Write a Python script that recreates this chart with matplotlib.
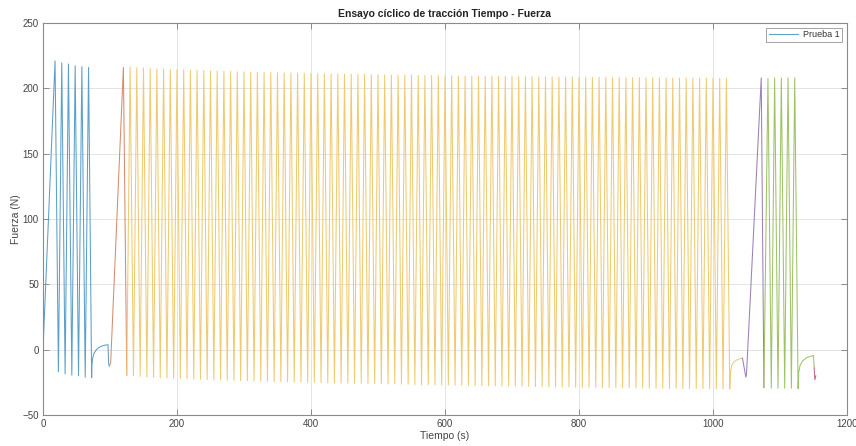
import numpy as np
import matplotlib
matplotlib.use("Agg")
import matplotlib.pyplot as plt

plt.rcParams["font.family"] = ["Liberation Sans", "DejaVu Sans"]

# --- Data: turning points of the force signal (time in s, force in N) ---

# Block 1: first loading cycles and relaxation
blue_t = [0, 18, 23, 28, 33, 38, 43, 48, 53, 58, 63, 68, 72.6,
          73, 74, 76, 79, 83, 88, 93, 97, 98, 99]
blue_f = [0, 221, -17, 219.5, -18.5, 218.6, -19.5, 217.2, -20, 216.5, -21, 216, -21.5,
          -12, -7, -3, -0.5, 1.5, 2.8, 3.5, 3.8, -11, -12.5]

# Transition ramp
red_t = [99, 101, 120, 125]
red_f = [-12.5, -10, 216, -19.5]

# Block 2: long cyclic series (peaks and valleys) and relaxation
yellow_peaks = [
    216.2, 215.8, 215.5, 215.2, 214.9, 214.7, 214.5, 214.3, 214.1, 213.9,
    213.7, 213.5, 213.4, 213.2, 213.0, 212.9, 212.7, 212.6, 212.4, 212.3,
    212.2, 212.0, 211.9, 211.8, 211.7, 211.6, 211.4, 211.3, 211.2, 211.1,
    211.0, 210.9, 210.8, 210.7, 210.6, 210.6, 210.5, 210.4, 210.3, 210.2,
    210.1, 210.1, 210.0, 209.9, 209.8, 209.8, 209.7, 209.6, 209.6, 209.5,
    209.4, 209.4, 209.3, 209.3, 209.2, 209.1, 209.1, 209.0, 209.0, 208.9,
    208.9, 208.8, 208.8, 208.7, 208.7, 208.6, 208.6, 208.5, 208.5, 208.4,
    208.4, 208.4, 208.3, 208.3, 208.2, 208.2, 208.2, 208.1, 208.1, 208.0,
    208.0, 208.0, 207.9, 207.9, 207.9, 207.8, 207.8, 207.8, 207.7, 207.7,
]
yellow_valleys = [
    -19.5, -20.0, -20.4, -20.8, -21.1, -21.4, -21.6, -21.9, -22.1, -22.3,
    -22.5, -22.7, -22.9, -23.1, -23.2, -23.4, -23.5, -23.7, -23.8, -24.0,
    -24.1, -24.2, -24.4, -24.5, -24.6, -24.7, -24.8, -25.0, -25.1, -25.2,
    -25.3, -25.4, -25.5, -25.6, -25.7, -25.8, -25.9, -26.0, -26.1, -26.2,
    -26.3, -26.4, -26.5, -26.6, -26.7, -26.8, -26.9, -27.0, -27.1, -27.2,
    -27.3, -27.4, -27.5, -27.6, -27.7, -27.7, -27.8, -27.9, -28.0, -28.1,
    -28.2, -28.2, -28.3, -28.4, -28.5, -28.5, -28.6, -28.7, -28.8, -28.8,
    -28.9, -29.0, -29.0, -29.1, -29.2, -29.2, -29.3, -29.4, -29.4, -29.5,
    -29.5, -29.6, -29.6, -29.7, -29.7, -29.8, -29.8, -29.9, -29.9, -30.0, -30.0,
]
yellow_start = 125      # first valley (s)
yellow_half_period = 5  # s between a valley and the next peak
yellow_relax_t = [1026, 1028, 1031, 1035, 1040, 1044]
yellow_relax_f = [-18, -12, -9.5, -8, -7, -6.5]

# Transition ramp
purple_t = [1044, 1049, 1050, 1072, 1076]
purple_f = [-6.5, -21, -19, 208, -29]

# Block 3: final loading cycles and relaxation
green_t = [1076, 1082, 1087, 1092, 1097, 1102, 1107, 1112, 1117, 1122, 1127,
           1128, 1130, 1134, 1140, 1146, 1150, 1151]
green_f = [-29, 207.5, -29.5, 208, -29.5, 208, -29.5, 208, -29.5, 208, -29.8,
           -17, -12, -8.5, -6, -5, -4.5, -14]

# Unloading tail
tail_t = [1151, 1152, 1153.5]
tail_f = [-14, -23, -20]

# Interleave valleys and peaks of block 2
n_turns = len(yellow_valleys) + len(yellow_peaks)
yellow_t = list(yellow_start + yellow_half_period * np.arange(n_turns))
yellow_f = []
for i in range(len(yellow_valleys)):
    yellow_f.append(yellow_valleys[i])
    if i < len(yellow_peaks):
        yellow_f.append(yellow_peaks[i])
yellow_t += yellow_relax_t
yellow_f += yellow_relax_f

# --- Figure ---
fig = plt.figure(figsize=(8.56, 4.46), dpi=100)
ax = fig.add_axes([43 / 856, 1 - 415 / 446, (847 - 43) / 856, (415 - 23) / 446])

lw = 0.75
ax.plot(blue_t, blue_f, color="#5b9fca", lw=lw, label="Prueba 1")
ax.plot(red_t, red_f, color="#d98a6e", lw=lw)
ax.plot(yellow_t, yellow_f, color="#f0ca70", lw=lw)
ax.plot(purple_t, purple_f, color="#9c80b8", lw=lw)
ax.plot(green_t, green_f, color="#9ec266", lw=lw)
ax.plot(tail_t, tail_f, color="#c2668a", lw=lw)

ax.set_xlim(0, 1200)
ax.set_ylim(-50, 250)
ax.set_xticks(np.arange(0, 1201, 200))
ax.set_yticks(np.arange(-50, 251, 50))

ax.grid(True, color="#e4e4e4", lw=0.7)
ax.set_axisbelow(True)
for s in ax.spines.values():
    s.set_color("#8a8a8a")
    s.set_linewidth(0.8)
ax.tick_params(direction="in", length=4, width=0.7, color="#8a8a8a",
               top=True, right=True, labelsize=7, labelcolor="#444444", pad=3)

ax.set_title("Ensayo cíclico de tracción Tiempo - Fuerza", fontsize=7.5,
             fontweight="bold", color="#222222", pad=4)
ax.set_xlabel("Tiempo (s)", fontsize=7.5, color="#444444", labelpad=1)
ax.set_ylabel("Fuerza (N)", fontsize=7.5, color="#444444", labelpad=1)

leg = ax.legend(loc="upper right", fontsize=6.5, frameon=True, fancybox=False,
                handlelength=3.2, borderpad=0.3, borderaxespad=0.5,
                handletextpad=0.6)
leg.get_frame().set_edgecolor("#8a8a8a")
leg.get_frame().set_linewidth(0.7)
for t in leg.get_texts():
    t.set_color("#333333")

fig.savefig("out.png", dpi=100)
